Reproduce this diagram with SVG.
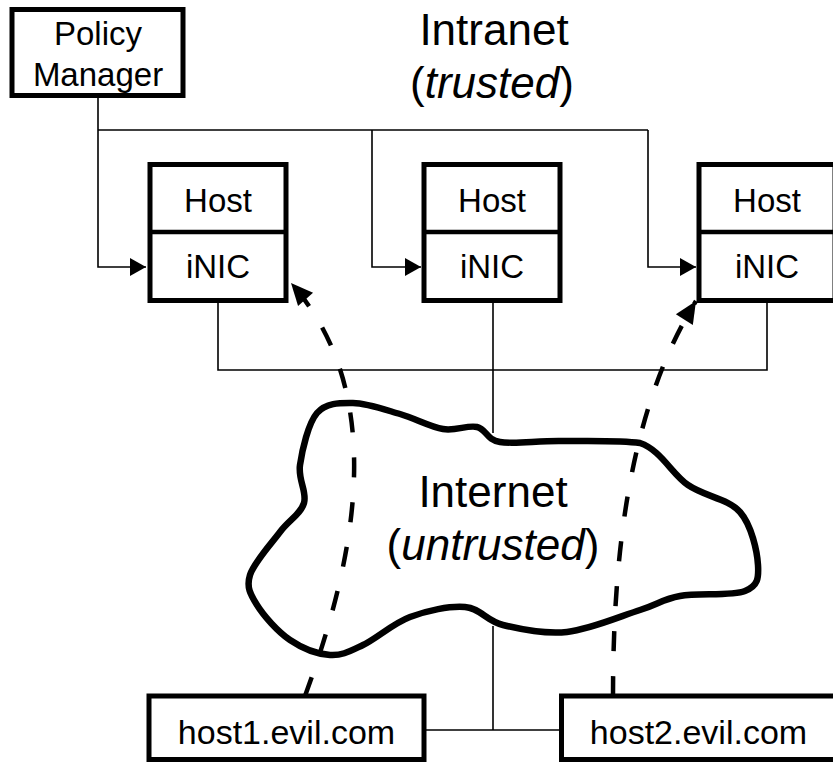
<svg xmlns="http://www.w3.org/2000/svg" width="833" height="766" viewBox="0 0 833 766">
<style>
text{font-family:"Liberation Sans",Arial,sans-serif;fill:#000}
.s{font-size:33px}
.e{font-size:34px}
.b{font-size:44px}
.box{fill:#fff;stroke:#000;stroke-width:5}
.div{stroke:#000;stroke-width:4.5}
.ln{fill:none;stroke:#000;stroke-width:1.6}
.dash{fill:none;stroke:#000;stroke-width:4.5;stroke-dasharray:20 25}
.cloud{fill:none;stroke:#000;stroke-width:6.5;stroke-linejoin:round}
</style>
<defs>
<marker id="arr" markerUnits="userSpaceOnUse" markerWidth="20" markerHeight="20" viewBox="-18 -10 20 20" refX="0" refY="0" orient="auto">
<path d="M0,0 L-16,-9 L-16,9 Z" fill="#000"/>
</marker>
<marker id="arrd" markerUnits="userSpaceOnUse" markerWidth="26" markerHeight="26" viewBox="-24 -13 26 26" refX="0" refY="0" orient="auto">
<path d="M0,0 L-22,-10 L-22,10 Z" fill="#000"/>
</marker>
</defs>

<g id="connectors">
<path class="ln" d="M98,96 V267 H146" marker-end="url(#arr)"/>
<path class="ln" d="M98,130 H648"/>
<path class="ln" d="M372,130 V267 H421" marker-end="url(#arr)"/>
<path class="ln" d="M648,130 V267 H696" marker-end="url(#arr)"/>
<path class="ln" d="M218,300 V370 H767 V300"/>
<path class="ln" d="M493,300 V433"/>
<path class="ln" d="M493,626 V730"/>
<path class="ln" d="M424,730 H561"/>
<path class="dash" d="M305,696 C355,560 390,395 291,283" marker-end="url(#arrd)"/>
<path class="dash" d="M613,696 C613,560 628,410 696,301" marker-end="url(#arrd)"/>
</g>

<g id="cloud">
<path class="cloud" d="M353,403 C366.8,403.2 385,409.7 400,414 C415,418.3 430.2,426.8 443,429 C455.8,431.2 467.5,424.8 477,427 C486.5,429.2 486.2,439.7 500,442 C513.8,444.3 536.7,440.8 560,441 C583.3,441.2 620,440 640,443 C661.3,450.3 671.3,473.5 688,485 C704.7,496.5 728.3,498.7 740,512 C751.7,525.3 757.2,551.8 758,565 C758.8,578.2 758,585.8 745,591 C732,596.2 697.5,592.8 680,596 C662.5,599.2 658.8,604 640,610 C621.2,616 589.8,629.5 567,632 C544.2,634.5 520,629.2 503,625 C486,620.8 480.5,608.3 465,607 C449.5,605.7 427,610.7 410,617 C393,623.3 376.3,638.7 363,645 C349.7,651.3 342.2,655.8 330,655 C317.8,654.2 302.2,648.3 290,640 C277.8,631.7 263.7,615.8 257,605 C250.3,594.2 246.2,587.2 250,575 C253.8,562.8 271,544 280,532 C289,520 300.7,514.2 304,503 C307.3,491.8 297.8,480 300,465 C302.2,450 308.2,423.3 317,413 C325.8,402.7 339.2,402.8 353,403 Z"/>
<text class="b" x="493" y="507" text-anchor="middle">Internet</text>
<text class="b" x="493" y="560" text-anchor="middle">(<tspan font-style="italic">untrusted</tspan>)</text>
</g>

<g id="intranet-label">
<text class="b" x="494" y="45" text-anchor="middle">Intranet</text>
<text class="b" x="492" y="98" text-anchor="middle">(<tspan font-style="italic">trusted</tspan>)</text>
</g>

<g id="policy-manager">
<rect class="box" x="12" y="9.5" width="171" height="86"/>
<text class="s" x="98" y="45" text-anchor="middle">Policy</text>
<text class="s" x="98" y="86" text-anchor="middle">Manager</text>
</g>

<g id="host1">
<rect class="box" x="150" y="164.5" width="136" height="136"/>
<line class="div" x1="150" y1="232" x2="286" y2="232"/>
<text class="s" x="218" y="212" text-anchor="middle">Host</text>
<text class="s" x="218" y="278" text-anchor="middle">iNIC</text>
</g>

<g id="host2">
<rect class="box" x="424" y="164.5" width="136" height="136"/>
<line class="div" x1="424" y1="232" x2="560" y2="232"/>
<text class="s" x="492" y="212" text-anchor="middle">Host</text>
<text class="s" x="492" y="278" text-anchor="middle">iNIC</text>
</g>

<g id="host3">
<rect class="box" x="699" y="164.5" width="136" height="136"/>
<line class="div" x1="699" y1="232" x2="835" y2="232"/>
<text class="s" x="767" y="212" text-anchor="middle">Host</text>
<text class="s" x="767" y="278" text-anchor="middle">iNIC</text>
</g>

<g id="host1-evil">
<rect class="box" x="149" y="696" width="275" height="63.5"/>
<text class="e" x="286.5" y="744" text-anchor="middle">host1.evil.com</text>
</g>

<g id="host2-evil">
<rect class="box" x="561.5" y="696" width="274" height="63.5"/>
<text class="e" x="698.5" y="744" text-anchor="middle">host2.evil.com</text>
</g>
</svg>
